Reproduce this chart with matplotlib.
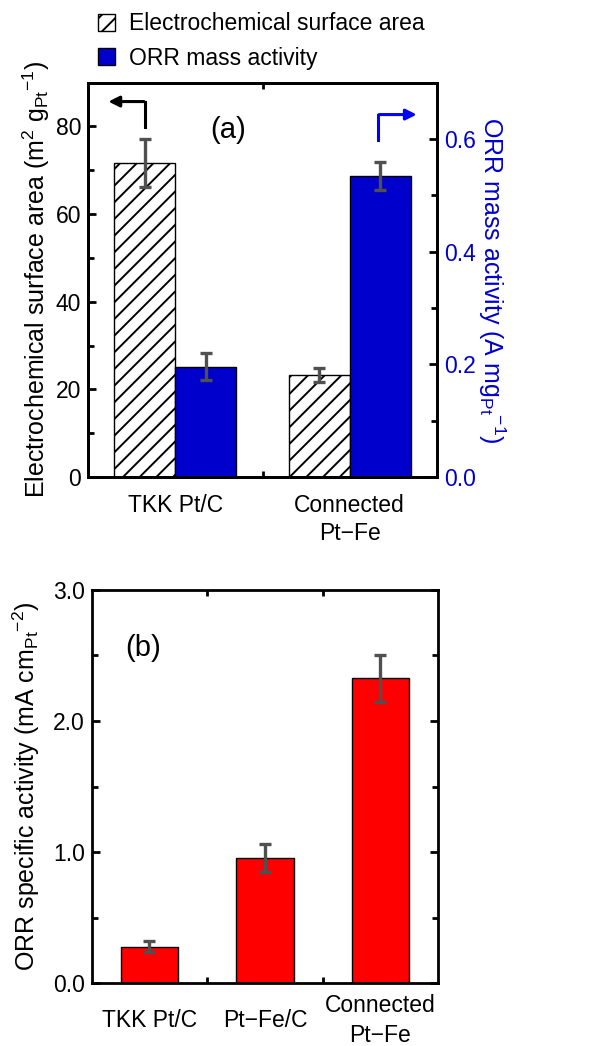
import matplotlib
matplotlib.use("Agg")
import matplotlib.pyplot as plt
import numpy as np

plt.rcParams["font.family"] = ["Liberation Sans", "DejaVu Sans"]
plt.rcParams["mathtext.fontset"] = "custom"
plt.rcParams["mathtext.rm"] = "Liberation Sans"
plt.rcParams["mathtext.it"] = "Liberation Sans:italic"
plt.rcParams["hatch.linewidth"] = 1.4

# --- data ---
cats_a = ["TKK Pt/C", "Connected\nPt\u2212Fe"]
esa = [71.7, 23.3]
esa_err = [5.5, 1.6]
mass_act = [0.196, 0.535]
mass_err = [0.024, 0.025]

cats_b = ["TKK Pt/C", "Pt\u2212Fe/C", "Connected\nPt\u2212Fe"]
spec_act = [0.277, 0.957, 2.325]
spec_err = [0.042, 0.108, 0.18]

BLUE, RED, ERR = "#0000cc", "#ff0000", "#505050"
FS_TICK = 16.5
FS_LAB = 18
LW = 2.0

fig = plt.figure(figsize=(5.92, 10.46), dpi=100)

def style(ax):
    for s in ax.spines.values():
        s.set_linewidth(LW)
    ax.tick_params(which="both", direction="in", width=LW, labelsize=FS_TICK, pad=5)
    ax.tick_params(which="major", length=6)
    ax.tick_params(which="minor", length=4)

eb = dict(ecolor=ERR, elinewidth=2.4, capsize=4.5, capthick=2.4)

# ---- (a) ----
A = fig.add_axes([0.149, 0.544, 0.589, 0.377])
x = np.arange(len(cats_a))
w = 0.35
b1 = A.bar(x - w/2, esa, w, yerr=esa_err, color="white", edgecolor="black",
           hatch="//", linewidth=1.0, error_kw=eb, label="Electrochemical surface area")
A.set_xlim(-0.5, 1.5)
A.set_ylim(0, 90)
A.set_yticks([0, 20, 40, 60, 80])
A.set_yticks([10, 30, 50, 70], minor=True)
A.yaxis.set_major_formatter(matplotlib.ticker.FormatStrFormatter("%d"))
A.set_xticks(x)
A.set_xticklabels(cats_a, fontsize=FS_TICK, linespacing=1.3)
A.set_xticks([0.5], minor=True)
style(A)
A.tick_params(axis="x", which="major", length=0, pad=12)
A.tick_params(axis="x", which="minor", top=True, bottom=True)
A.set_ylabel("Electrochemical surface area (m$^{2}$ g$_{\\mathrm{Pt}}$$^{-1}$)",
             fontsize=FS_LAB, labelpad=3)

B = A.twinx()
b2 = B.bar(x + w/2, mass_act, w, yerr=mass_err, color=BLUE, edgecolor="black",
           linewidth=1.0, error_kw=eb, label="ORR mass activity")
B.set_ylim(0, 0.7)
B.set_yticks([0.0, 0.2, 0.4, 0.6])
B.set_yticks([0.1, 0.3, 0.5], minor=True)
B.yaxis.set_major_formatter(matplotlib.ticker.FormatStrFormatter("%.1f"))
style(B)
B.tick_params(axis="y", which="both", colors="black", labelcolor=BLUE)
B.set_ylabel("ORR mass activity (A mg$_{\\mathrm{Pt}}$$^{-1}$)", fontsize=FS_LAB,
             color=BLUE, rotation=270, labelpad=23)

A.text(0.40, 0.88, "(a)", transform=A.transAxes, fontsize=21, ha="center", va="center")

# direction arrows
A.plot([0.163, 0.163], [0.888, 0.952], color="black", lw=2.2, transform=A.transAxes, clip_on=False)
A.annotate("", xy=(0.05, 0.952), xytext=(0.168, 0.952), xycoords="axes fraction",
           arrowprops=dict(arrowstyle="-|>", color="black", lw=2.2, mutation_scale=16))
A.plot([0.831, 0.831], [0.855, 0.919], color="blue", lw=2.2, transform=A.transAxes, clip_on=False)
A.annotate("", xy=(0.95, 0.919), xytext=(0.826, 0.919), xycoords="axes fraction",
           arrowprops=dict(arrowstyle="-|>", color="blue", lw=2.2, mutation_scale=16))

fig.legend(handles=[b1, b2], loc="upper left", bbox_to_anchor=(0.130, 1.008), frameon=False,
           fontsize=FS_TICK, handlelength=0.75, handleheight=0.75, handletextpad=0.6,
           labelspacing=0.5)

# ---- (b) ----
C = fig.add_axes([0.155, 0.060, 0.585, 0.376])
xb = np.arange(len(cats_b))
C.bar(xb, spec_act, 0.5, yerr=spec_err, color=RED, edgecolor="black", linewidth=1.0, error_kw=eb)
C.set_xlim(-0.5, 2.5)
C.set_ylim(0, 3.0)
C.set_yticks([0, 1, 2, 3])
C.set_yticks([0.5, 1.5, 2.5], minor=True)
C.yaxis.set_major_formatter(matplotlib.ticker.FormatStrFormatter("%.1f"))
C.set_xticks(xb)
C.set_xticklabels(cats_b, fontsize=FS_TICK, va="center", linespacing=1.4)
C.set_xticks([0.5, 1.5], minor=True)
style(C)
C.tick_params(axis="x", which="major", length=0, pad=27)
C.tick_params(axis="x", which="minor", top=True, bottom=True)
C.tick_params(axis="y", which="both", right=True)
C.set_ylabel("ORR specific activity (mA cm$_{\\mathrm{Pt}}$$^{-2}$)", fontsize=FS_LAB, labelpad=8)
C.text(0.147, 0.852, "(b)", transform=C.transAxes, fontsize=21, ha="center", va="center")

fig.savefig("out.png", dpi=100)
